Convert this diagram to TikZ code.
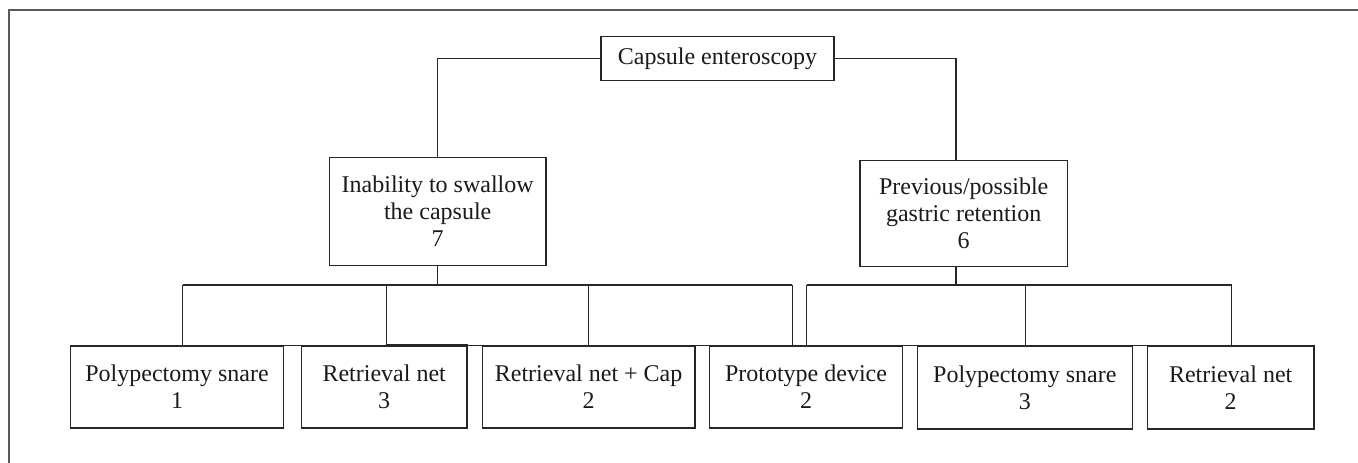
\documentclass[tikz,border=0pt]{standalone}
\usepackage{fontspec}
\setmainfont{Liberation Serif}
\definecolor{linec}{HTML}{262626}
\definecolor{framec}{HTML}{5A5A5A}
\definecolor{textc}{HTML}{1A1A1A}
\begin{document}
\begin{tikzpicture}[x=1pt,y=-1pt,
  box/.style={draw=linec, line width=1.3pt, fill=white, inner sep=0pt, align=center,
    font=\fontsize{24}{27}\selectfont, text=textc},
  conn/.style={draw=linec, line width=1.3pt},
  framel/.style={draw=framec, line width=2pt}]
\useasboundingbox (0,0) rectangle (1358,463);
\draw[framel] (8.5,463) -- (8.5,9.5) -- (1358,9.5);

% bar coordinates
\coordinate (l1) at (182.7,285);
\coordinate (l2) at (386.7,285);
\coordinate (l3) at (588.3,285);
\coordinate (l4) at (792.3,285);
\coordinate (r1) at (806.7,285);
\coordinate (r2) at (1025.7,285);
\coordinate (r3) at (1231.7,285);

\node[box, minimum width=233pt, minimum height=44pt] (root) at (717.5,58.7) {Capsule enteroscopy};
\node[box, minimum width=216.5pt, minimum height=108.4pt] (inab) at (437.7,211.5) {Inability to swallow\\the capsule\\7};
\node[box, minimum width=207.3pt, minimum height=106pt] (prev) at (963.7,213.7) {Previous/possible\\gastric retention\\6};

\node[box, minimum width=213.5pt, minimum height=82pt] (b1) at (177,387) {Polypectomy snare\\1};
\node[box, minimum width=165.7pt, minimum height=82pt] (b2) at (384.2,387) {Retrieval net\\3};
\node[box, minimum width=212.8pt, minimum height=82pt] (b3) at (588.6,387) {Retrieval net + Cap\\2};
\node[box, minimum width=193.4pt, minimum height=82pt] (b4) at (806,387) {Prototype device\\2};
\node[box, minimum width=215pt, minimum height=83pt] (b5) at (1024.8,387.5) {Polypectomy snare\\3};
\node[box, minimum width=166.7pt, minimum height=83pt] (b6) at (1230.7,387.5) {Retrieval net\\2};

\draw[conn] (root.west) -| (inab.north);
\draw[conn] (root.east) -| ([xshift=-7.7pt]prev.north);
\draw[conn] (inab.south) -- (inab.south |- l1);
\draw[conn] ([xshift=-7.7pt]prev.south) -- ([xshift=-7.7pt]prev.south |- r1);

\draw[conn] (l1) -- (l4);
\draw[conn] (r1) -- (r3);
\foreach \c/\b in {l1/b1,l2/b2,l3/b3,l4/b4,r1/b4,r2/b5,r3/b6}
  \draw[conn] (\c) -- (\c |- \b.north);
\draw[conn] (l1 |- b1.north) -- (l4 |- b1.north);
\draw[conn] (r1 |- b1.north) -- (r3 |- b1.north);
\draw[conn] ([yshift=1.2pt]l2 |- b2.north) -- ([yshift=1.2pt]b2.north east);
\end{tikzpicture}
\end{document}
